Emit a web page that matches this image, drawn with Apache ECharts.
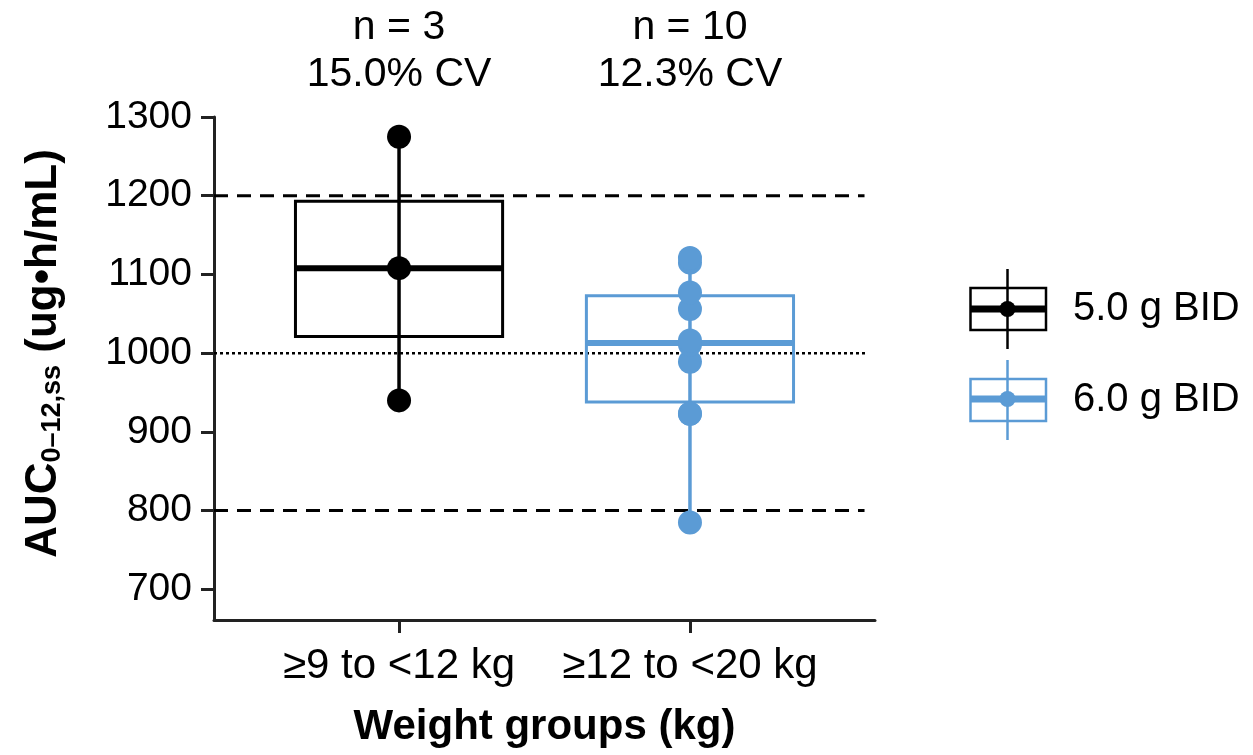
<!DOCTYPE html>
<html>
<head>
<meta charset="utf-8">
<script src="https://cdn.jsdelivr.net/npm/echarts@6/dist/echarts.min.js"></script>
<style>
  html, body { margin: 0; padding: 0; background: #fff; }
  #chart { width: 1253px; height: 755px; }
</style>
</head>
<body>
<div id="chart"></div>
<script>
// ---- data ----
const categories = ['≥9 to <12 kg', '≥12 to <20 kg'];
const groupPos = [1, 2];
const doses = ['5.0 g BID', '6.0 g BID'];
const nLabels = ['n = 3', 'n = 10'];
const cvLabels = ['15.0% CV', '12.3% CV'];
const pointsLow = [940, 1108, 1275];
const pointsHigh = [785, 923, 923, 989, 1011, 1016, 1056, 1077, 1115, 1121];
const boxQ1 = [1021, 938];
const boxMedian = [1108, 1013];
const boxQ3 = [1193, 1073];
const yTicks = [700, 800, 900, 1000, 1100, 1200, 1300];
const refDashed = [800, 1200];
const refDotted = [1000];

// ---- styling ----
const FONT = '"Liberation Sans", Arial, sans-serif';
const colors = ['#000000', '#5B9BD5'];
const Y_MIN = 661, Y_MAX = 1300;
const X_MIN = 0.364, X_MAX = 2.636;
const REF_END = 2.6;
const HALF_W = 0.356;
const pointSets = [pointsLow, pointsHigh];

function legendIcon(color, medianY) {
  const svg = '<svg xmlns="http://www.w3.org/2000/svg" width="99" height="80" viewBox="0 0 99 80">' +
    '<rect x="1.5" y="19" width="75.5" height="42" fill="none" stroke="' + color + '" stroke-width="2.5"/>' +
    '<line x1="38.5" y1="0" x2="38.5" y2="80" stroke="' + color + '" stroke-width="2.5"/>' +
    '<line x1="1.5" y1="' + medianY + '" x2="77" y2="' + medianY + '" stroke="' + color + '" stroke-width="7"/>' +
    '<circle cx="38.5" cy="' + medianY + '" r="8" fill="' + color + '"/>' +
    '</svg>';
  return 'image://data:image/svg+xml;charset=utf-8,' + encodeURIComponent(svg);
}

const series = [];

// reference lines
refDashed.forEach(v => series.push({
  type: 'line', silent: true, symbol: 'none', z: 1,
  data: [[X_MIN, v], [REF_END, v]],
  lineStyle: { color: '#000', width: 3, type: [14, 9] }
}));
refDotted.forEach(v => series.push({
  type: 'line', silent: true, symbol: 'none', z: 1,
  data: [[X_MIN, v], [REF_END + 0.01, v]],
  lineStyle: { color: '#000', width: 2.5, type: [3, 3] }
}));

doses.forEach((name, i) => {
  const pts = pointSets[i];
  const color = colors[i];
  series.push({
    name: name,
    type: 'custom',
    z: 2,
    itemStyle: { color: color },
    encode: { x: 0, y: [1, 2, 3, 4, 5] },
    data: [[groupPos[i], boxQ1[i], boxMedian[i], boxQ3[i], Math.min(...pts), Math.max(...pts)]],
    renderItem: function (params, api) {
      const x = api.value(0);
      const q1 = api.value(1), md = api.value(2), q3 = api.value(3);
      const lo = api.value(4), hi = api.value(5);
      const tl = api.coord([x - HALF_W, q3]);
      const br = api.coord([x + HALF_W, q1]);
      const mL = api.coord([x - HALF_W, md]);
      const mR = api.coord([x + HALF_W, md]);
      const wT = api.coord([x, hi]);
      const wB = api.coord([x, lo]);
      const top = api.coord([x, Y_MAX]);
      return {
        type: 'group',
        children: [
          { type: 'rect', shape: { x: tl[0], y: tl[1], width: br[0] - tl[0], height: br[1] - tl[1] },
            style: { fill: 'none', stroke: color, lineWidth: 3 } },
          { type: 'line', shape: { x1: mL[0], y1: mL[1], x2: mR[0], y2: mR[1] },
            style: { stroke: color, lineWidth: 6 } },
          { type: 'line', shape: { x1: wT[0], y1: wT[1], x2: wB[0], y2: wB[1] },
            style: { stroke: color, lineWidth: 3.5 } },
          { type: 'text', style: { text: nLabels[params.dataIndex + i], x: top[0], y: top[1] - 89,
              align: 'center', verticalAlign: 'middle', fontSize: 41, fontFamily: FONT, fill: '#000' } },
          { type: 'text', style: { text: cvLabels[params.dataIndex + i], x: top[0], y: top[1] - 42,
              align: 'center', verticalAlign: 'middle', fontSize: 41, fontFamily: FONT, fill: '#000' } }
        ]
      };
    }
  });
  series.push({
    name: name,
    type: 'scatter',
    z: 3,
    symbol: 'circle',
    symbolSize: 24,
    itemStyle: { color: color, opacity: 1 },
    data: pts.map(v => [groupPos[i], v])
  });
});

const chart = echarts.init(document.getElementById('chart'), null, { renderer: 'canvas' });
chart.setOption({
  animation: false,
  backgroundColor: '#fff',
  grid: { left: 214, right: 378, top: 117, bottom: 135, containLabel: false },
  legend: {
    orient: 'vertical',
    left: 969, top: 269,
    padding: 0,
    itemWidth: 99, itemHeight: 80, itemGap: 11,
    selectedMode: false,
    textStyle: { fontSize: 40, fontFamily: FONT, color: '#000' },
    data: [
      { name: doses[0], icon: legendIcon(colors[0], 40) },
      { name: doses[1], icon: legendIcon(colors[1], 39) }
    ]
  },
  xAxis: {
    type: 'value',
    min: X_MIN, max: X_MAX,
    name: 'Weight groups (kg)',
    nameLocation: 'middle',
    nameGap: 86,
    nameTextStyle: { fontSize: 42, fontWeight: 'bold', fontFamily: FONT, color: '#000' },
    axisLine: { onZero: false, lineStyle: { color: '#222', width: 3 } },
    axisTick: { show: true, customValues: groupPos, length: 13, lineStyle: { color: '#222', width: 3 } },
    axisLabel: { customValues: groupPos, margin: 25, fontSize: 42, fontFamily: FONT, color: '#000',
      formatter: v => categories[Math.round(v) - 1] },
    splitLine: { show: false }
  },
  yAxis: {
    type: 'value',
    min: Y_MIN, max: Y_MAX,
    name: '{b|AUC}{s|0–12,ss}{b| (ug•h/mL)}',
    nameLocation: 'middle',
    nameGap: 148,
    nameTextStyle: {
      padding: [0, 0, 0, 30],
      rich: {
        b: { fontSize: 44, fontWeight: 'bold', fontFamily: FONT, color: '#000', lineHeight: 50, verticalAlign: 'bottom' },
        s: { fontSize: 27, fontWeight: 'bold', fontFamily: FONT, color: '#000', lineHeight: 27, verticalAlign: 'bottom' }
      }
    },
    axisLine: { show: true, lineStyle: { color: '#222', width: 3 } },
    axisTick: { show: true, customValues: yTicks, length: 13, lineStyle: { color: '#222', width: 3 } },
    axisLabel: { customValues: yTicks, margin: 22, fontSize: 39, fontFamily: FONT, color: '#000',
      formatter: v => String(v) },
    splitLine: { show: false }
  },
  series: series
});
</script>
</body>
</html>
